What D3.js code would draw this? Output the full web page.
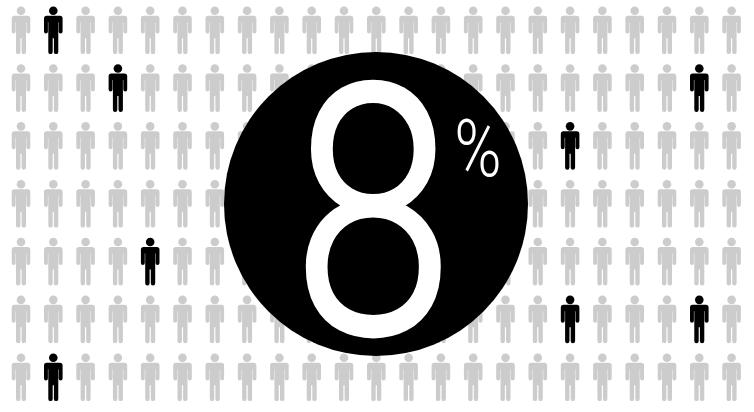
<!DOCTYPE html>
<html>
<head>
<meta charset="utf-8">
<script src="https://cdn.jsdelivr.net/npm/d3@7"></script>
<style>
html, body { margin: 0; padding: 0; background: #fff; }
svg { display: block; }
</style>
</head>
<body>
<div id="chart"></div>
<script>
var width = 754, height = 412;

var columns = d3.range(23);
var rows = d3.range(7);
var highlightedCol = [1, 3, 21, 17, 4, 17, 21, 1];
var highlightedRow = [0, 1, 1, 2, 4, 5, 5, 6];
var percentValue = "8";
var percentSign = "%";

var isHighlighted = {};
highlightedCol.forEach(function (c, i) {
  isHighlighted[c + "-" + highlightedRow[i]] = true;
});

var people = [];
rows.forEach(function (r) {
  columns.forEach(function (c) {
    people.push({col: c, row: r, on: isHighlighted[c + "-" + r] === true});
  });
});

var x = d3.scalePoint().domain(columns).range([21, 731.6]);
var y = d3.scalePoint().domain(rows).range([10.7, 357.7]);

// body of the little man, origin is the centre of his head
var body = "M-6.6,5H6.6Q9.3,5 9.3,7.7V20.9A1.95,1.95 0 0 1 5.4,20.9V11.5H5V41.2" +
  "A2.15,2.15 0 0 1 0.6,41.2V27.5H-0.6V41.2A2.15,2.15 0 0 1 -5,41.2V11.5H-5.4V20.9" +
  "A1.95,1.95 0 0 1 -9.3,20.9V7.7Q-9.3,5 -6.6,5Z";

var svg = d3.select("#chart").append("svg")
  .attr("width", width)
  .attr("height", height);

var person = svg.append("g").selectAll("g")
  .data(people)
  .join("g")
  .attr("transform", function (d) { return "translate(" + x(d.col) + "," + y(d.row) + ")"; })
  .attr("fill", function (d) { return d.on ? "#000" : "#ccc"; });

person.append("circle").attr("r", 4.3);
person.append("path").attr("d", body);

svg.append("circle")
  .attr("cx", 376)
  .attr("cy", 204)
  .attr("r", 152)
  .attr("fill", "#000");

// light weight is too thin here, a white stroke brings it up to the right thickness
svg.append("text")
  .attr("transform", "translate(373,332) scale(0.83,1)")
  .attr("text-anchor", "middle")
  .attr("font-family", "Roboto, sans-serif")
  .attr("font-weight", 300)
  .attr("font-size", 346)
  .attr("fill", "#fff")
  .attr("stroke", "#fff")
  .attr("stroke-width", 6)
  .text(percentValue);

svg.append("text")
  .attr("transform", "translate(478,176) scale(0.8,1)")
  .attr("text-anchor", "middle")
  .attr("font-family", "Roboto, sans-serif")
  .attr("font-weight", 300)
  .attr("font-size", 80)
  .attr("fill", "#fff")
  .text(percentSign);
</script>
</body>
</html>
